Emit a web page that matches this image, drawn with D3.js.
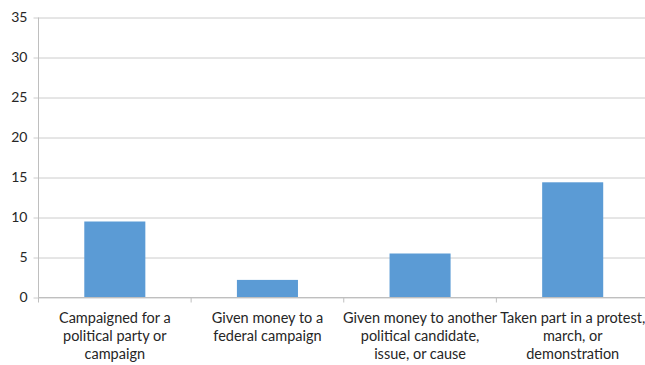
<!DOCTYPE html>
<html>
<head>
<meta charset="utf-8">
<script src="https://cdn.jsdelivr.net/npm/d3@7"></script>
<style>
  body { margin: 0; background: #fff; }
  text { font-family: Lato, "Open Sans", sans-serif; fill: #262626; }
</style>
</head>
<body>
<svg width="645" height="365"></svg>
<script>
const categories = [
    ['Campaigned for a', 'political party or', 'campaign'],
    ['Given money to a', 'federal campaign'],
    ['Given money to another', 'political candidate,', 'issue, or cause'],
    ['Taken part in a protest,', 'march, or', 'demonstration']
];
const values = [9.5, 2.2, 5.5, 14.4];
const yTicks = [0, 5, 10, 15, 20, 25, 30, 35];

const margin = {top: 17.5, right: 0, bottom: 68, left: 38.5},
    width = 649 - margin.left,
    height = 297.5 - margin.top;

const svg = d3.select('svg');
const g = svg.append('g')
    .attr('transform', `translate(${margin.left},${margin.top})`);

const keys = categories.map((c, i) => i);

const xScale = d3.scaleBand()
    .domain(keys)
    .range([0, width])
    .paddingInner(0.6)
    .paddingOuter(0.3);

const xCat = d3.scaleBand()
    .domain(keys)
    .range([0, width]);

const yScale = d3.scaleLinear()
    .domain([0, 35])
    .range([height, 0]);

// gridlines + y labels
const yAxis = d3.axisLeft(yScale)
    .tickValues(yTicks)
    .tickSize(-width)
    .tickPadding(11);

const yAxisG = g.append('g').call(yAxis);
yAxisG.select('.domain').remove();
yAxisG.selectAll('.tick line')
    .attr('stroke', '#cccccc')
    .attr('x1', -5);
yAxisG.selectAll('.tick text')
    .style('font-size', '14px')
    .attr('fill', '#262626');

// y axis line
g.append('line')
    .attr('x1', 0).attr('x2', 0)
    .attr('y1', 0).attr('y2', height)
    .attr('stroke', '#bfbfbf');

// bars
g.selectAll('.bar')
    .data(values)
    .enter().append('rect')
    .attr('class', 'bar')
    .attr('x', (d, i) => xScale(i))
    .attr('y', d => yScale(d))
    .attr('width', xScale.bandwidth())
    .attr('height', d => height - yScale(d))
    .attr('fill', '#5b9bd5');

// x axis line + category ticks
g.append('line')
    .attr('x1', 0).attr('x2', width)
    .attr('y1', height).attr('y2', height)
    .attr('stroke', '#bfbfbf');

const tickPos = keys.map(k => xCat(k)).concat([width]);
g.selectAll('.xtick')
    .data(tickPos)
    .enter().append('line')
    .attr('class', 'xtick')
    .attr('x1', d => d).attr('x2', d => d)
    .attr('y1', height).attr('y2', height + 5)
    .attr('stroke', '#bfbfbf');

// category labels
const labels = g.selectAll('.xlabel')
    .data(categories)
    .enter().append('text')
    .attr('class', 'xlabel')
    .attr('text-anchor', 'middle')
    .style('font-size', '14.5px')
    .attr('transform', (d, i) => `translate(${xCat(i) + xCat.bandwidth() / 2},${height + 25})`);

labels.selectAll('tspan')
    .data(d => d)
    .enter().append('tspan')
    .attr('x', 0)
    .attr('y', (d, i) => i * 18)
    .text(d => d);
</script>
</body>
</html>
